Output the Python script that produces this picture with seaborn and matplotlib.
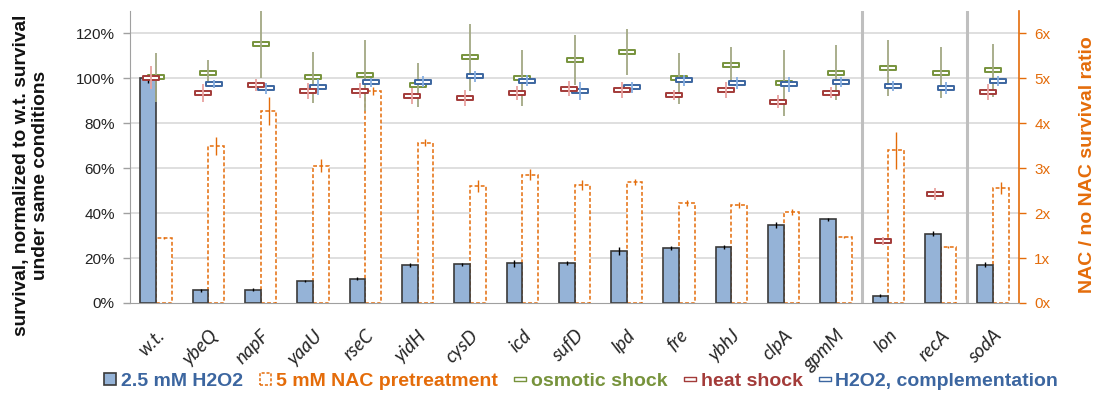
import numpy as np
import pandas as pd
import matplotlib
matplotlib.use("Agg")
import matplotlib.pyplot as plt
from matplotlib.path import Path
from matplotlib.patches import Patch
from matplotlib.lines import Line2D
import seaborn as sns

# ---------------- data ----------------
strains = ['w.t.', 'ybeQ', 'napF', 'yaaU', 'rseC', 'yidH', 'cysD', 'icd', 'sufD',
           'lpd', 'fre', 'ybhJ', 'clpA', 'gpmM', 'lon', 'recA', 'sodA']

h2o2 = [100, 5.7, 6.0, 9.8, 10.9, 16.9, 17.2, 17.6, 17.8, 23.0, 24.4, 24.8, 34.8, 37.2, 3.3, 30.9, 17.1]
h2o2_err = [2.0, 0.6, 0.6, 0.6, 0.6, 0.8, 0.8, 1.5, 0.8, 1.8, 0.8, 0.8, 1.2, 0.8, 0.6, 1.0, 1.0]

nac_ratio = [1.44, 3.50, 4.28, 3.06, 4.72, 3.57, 2.60, 2.86, 2.63, 2.70, 2.23, 2.18, 2.03, 1.47, 3.40, 1.25, 2.56]
nac_err = [0.02, 0.20, 0.31, 0.14, 0.09, 0.08, 0.13, 0.12, 0.11, 0.07, 0.07, 0.06, 0.06, 0.03, 0.41, 0.02, 0.13]

osmotic = [100.4, 102.5, 115.1, 100.4, 101.3, 96.9, 109.3, 100.1, 108.2, 111.6, 100.1, 105.9, 97.9, 102.5, 104.7, 102.5, 103.6]
osmotic_err = [11, 5.8, 15, 11.4, 16, 9.8, 15, 12.5, 11, 10.2, 11.4, 8.2, 14.8, 12.3, 12.6, 11.4, 11.9]

heat = [100.3, 93.7, 96.9, 94.2, 94.6, 92.2, 91.2, 93.4, 95.4, 94.8, 92.7, 94.8, 89.6, 93.7, 27.6, 48.6, 93.9]
heat_err = [5, 4, 2.7, 3.6, 3.5, 3.5, 3.6, 3.1, 3.4, 3.7, 2.2, 3.7, 3.0, 2.4, 1.6, 2.8, 3.6]

compl = [np.nan, 97.3, 95.5, 96.1, 98.3, 98.6, 100.9, 98.9, 94.3, 96.0, 99.1, 97.8, 97.3, 98.3, 96.6, 95.8, 98.9]
compl_err = [np.nan, 1.8, 2.5, 3.5, 2.0, 2.5, 2.5, 2.4, 3.9, 2.5, 2.5, 2.7, 3.5, 2.2, 2.4, 2.7, 2.2]

left_ticks = [0, 20, 40, 60, 80, 100, 120]
right_ticks = [0, 1, 2, 3, 4, 5, 6]
group_breaks = [13.5, 15.5]

series_names = ['2.5 mM H2O2', '5 mM NAC pretreatment', 'osmotic shock', 'heat shock',
                'H2O2, complementation']

# ---------------- style ----------------
sns.set_style('white')
plt.rcParams['font.family'] = ['Liberation Sans', 'DejaVu Sans']

C_BAR = '#95B3D7'
C_BAR_EDGE = '#3A3A3A'
C_ORANGE = '#E46C0A'
C_GREEN = '#77933C'
C_GREEN_ERR = '#A3A884'
C_RED = '#A33B39'
C_RED_ERR = '#E8A2A0'
C_BLUE = '#3C66A0'
C_BLUE_ERR = '#86AEE0'
C_GRID = '#D9D9D9'
C_AXIS = '#A0A0A0'

fig = plt.figure(figsize=(10.97, 4.08), dpi=100)
ax = fig.add_axes([130 / 1097, 1 - 303 / 408, 889 / 1097, 292 / 408])
ax2 = ax.twinx()

n = len(strains)
x = np.arange(n)

df_h = pd.DataFrame({'strain': strains, 'value': h2o2, 'series': series_names[0]})
df_n = pd.DataFrame({'strain': strains, 'value': nac_ratio, 'series': series_names[1]})
hue_order = series_names[:2]
pal = {series_names[0]: C_BAR, series_names[1]: 'white'}

# right axis: NAC ratio bars (dashed outline), drawn below the left axis
sns.barplot(data=df_n, x='strain', y='value', hue='series', hue_order=hue_order,
            order=strains, width=0.6, dodge=True, gap=0, palette=pal, saturation=1,
            edgecolor=C_ORANGE, linewidth=1.1, linestyle=(0, (2.5, 1.5)),
            errorbar=None, legend=False, ax=ax2, zorder=2)
ax2.errorbar(x + 0.15, nac_ratio, yerr=nac_err, fmt='none', ecolor=C_ORANGE,
             elinewidth=1.0, capsize=0, zorder=3)

# left axis: H2O2 bars
sns.barplot(data=df_h, x='strain', y='value', hue='series', hue_order=hue_order,
            order=strains, width=0.6, dodge=True, gap=0, palette=pal, saturation=1,
            edgecolor=C_BAR_EDGE, linewidth=1.2,
            errorbar=None, legend=False, ax=ax, zorder=2)
ax.errorbar(x - 0.15, h2o2, yerr=h2o2_err, fmt='none', ecolor='black',
            elinewidth=1.0, capsize=0, zorder=3)

# rectangle marker
rect = Path([(-1, -0.26), (1, -0.26), (1, 0.26), (-1, 0.26), (-1, -0.26)],
            [Path.MOVETO, Path.LINETO, Path.LINETO, Path.LINETO, Path.CLOSEPOLY])

for vals, errs, off, col, ecol, z in [
        (osmotic, osmotic_err, 0.0, C_GREEN, C_GREEN_ERR, 4),
        (compl, compl_err, 0.1, C_BLUE, C_BLUE_ERR, 6),
        (heat, heat_err, -0.1, C_RED, C_RED_ERR, 8)]:
    ax.plot(x + off, vals, ls='none', marker=rect, markersize=11.5,
            mfc='white', mec=col, mew=1.4, zorder=z)
    ax.errorbar(x + off, vals, yerr=errs, fmt='none', ecolor=ecol,
                elinewidth=1.3, capsize=0, zorder=z + 1)

# layering: left axis above right axis
ax.set_zorder(ax2.get_zorder() + 1)
ax.patch.set_visible(False)

# limits & ticks
ax.set_xlim(-0.5, n - 0.5)
ax.set_ylim(0, 130)
ax2.set_ylim(0, 6.5)
ax.set_yticks(left_ticks)
ax.set_yticklabels([f'{t}%' for t in left_ticks])
ax2.set_yticks(right_ticks)
ax2.set_yticklabels([f'{t}x' for t in right_ticks])

# grid on right axis (same positions as left)
ax.grid(False)
ax2.grid(False)
for t in right_ticks[1:]:
    ax2.axhline(t, color=C_GRID, lw=1.2, zorder=0)
for b in group_breaks:
    ax2.axvline(b, color='#BFBFBF', lw=2.2, zorder=1)

ax.set_xticks(x)
ax.set_xticklabels(strains, rotation=45, ha='right', rotation_mode='anchor',
                   fontstyle='italic', fontsize=13.5, family=['Lato', 'DejaVu Sans'])
ax.set_xticks(np.arange(-0.5, n, 1), minor=True)
ax.tick_params(axis='x', which='major', length=0, pad=17)
ax.tick_params(axis='x', which='minor', length=5, width=1, color=C_AXIS, direction='out')
ax.tick_params(axis='y', length=5, width=1, color=C_AXIS, direction='out',
               labelsize=11, labelcolor='#222222', pad=6)
ax2.tick_params(axis='y', length=5, width=1, color=C_ORANGE, direction='out',
                labelsize=11, labelcolor=C_ORANGE, pad=6)
ax.set_xlabel('')
ax.set_ylabel('')
ax2.set_ylabel('')
ax2.set_xlabel('')

for s in ['top', 'right']:
    ax.spines[s].set_visible(False)
ax.spines['left'].set_color(C_AXIS)
ax.spines['bottom'].set_color(C_AXIS)
ax2.spines['top'].set_visible(False)
ax2.spines['left'].set_visible(False)
ax2.spines['bottom'].set_visible(False)
ax2.spines['right'].set_color(C_ORANGE)
ax2.spines['right'].set_linewidth(1.2)

# axis titles
fig.text(31 / 1097, 1 - 175 / 408,
         'survival, normalized to w.t. survival\nunder same conditions',
         rotation=90, ha='center', va='center', multialignment='center',
         fontsize=13.8, fontweight='bold', color='#111111', linespacing=1.1)
fig.text(1087 / 1097, 1 - 165 / 408, 'NAC / no NAC survival ratio',
         rotation=90, ha='center', va='center', fontsize=14, fontweight='bold',
         color=C_ORANGE)

# legend
handles = [
    Patch(facecolor=C_BAR, edgecolor=C_BAR_EDGE, linewidth=1.2),
    Patch(facecolor='white', edgecolor=C_ORANGE, linewidth=1.1, linestyle=(0, (2, 1.2))),
    Line2D([], [], ls='none', marker=rect, markersize=9, mfc='white', mec=C_GREEN, mew=1.0),
    Line2D([], [], ls='none', marker=rect, markersize=9, mfc='white', mec=C_RED, mew=1.0),
    Line2D([], [], ls='none', marker=rect, markersize=9, mfc='white', mec=C_BLUE, mew=1.0),
]
leg = fig.legend(handles, series_names, loc='center', bbox_to_anchor=(0.53, 0.066),
                 ncol=5, frameon=False, handlelength=0.6, handleheight=0.6,
                 handletextpad=0.25, columnspacing=0.85,
                 prop={'weight': 'bold', 'size': 14},
                 labelcolor=[C_BLUE, C_ORANGE, C_GREEN, C_RED, C_BLUE])

fig.savefig('out.png', dpi=100)
